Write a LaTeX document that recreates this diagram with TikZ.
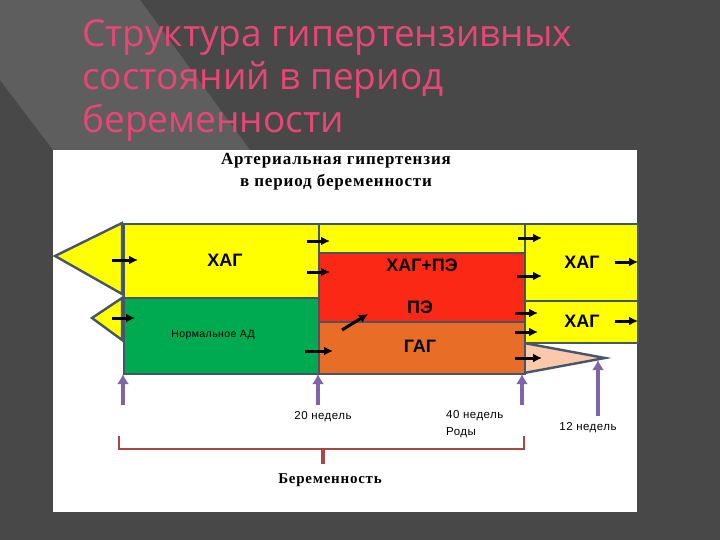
\documentclass[tikz,border=0pt]{standalone}
\usepackage{fontspec}
\setmainfont{Liberation Serif}
\newfontfamily\titlefont{Open Sans}
\newfontfamily\arialf{Liberation Sans}
\newfontfamily\arialsp[LetterSpace=4]{Liberation Sans}
\newfontfamily\serifsp[LetterSpace=5]{Liberation Serif}
\begin{document}
\begin{tikzpicture}[x=1pt,y=-1pt,
  cell/.style={draw={rgb,255:red,70;green,85;blue,105}, line width=2.4pt},
  blk/.style={-{Latex[length=9pt,width=9pt]}, line width=3pt, black},
  pur/.style={-{Latex[length=10pt,width=12pt]}, line width=4pt, color={rgb,255:red,128;green,100;blue,170}},
  lab/.style={font=\arialf\bfseries\fontsize{18}{18}\selectfont, inner sep=0pt},
  small/.style={font=\arialsp\fontsize{11.5}{17}\selectfont, inner sep=0pt, align=left}]
\usetikzlibrary{arrows.meta}
\definecolor{bg}{RGB}{72,72,72}
\definecolor{ttl}{RGB}{232,70,120}
\definecolor{yel}{RGB}{255,255,0}
\definecolor{grn}{RGB}{0,170,80}
\definecolor{redc}{RGB}{250,40,20}
\definecolor{orn}{RGB}{232,110,40}
\definecolor{pch}{RGB}{250,200,170}
\definecolor{brc}{RGB}{170,70,70}
\useasboundingbox (0,0) rectangle (720,540);
\fill[bg] (0,0) rectangle (720,540);
\fill[gray!40!bg] (0,0) -- (140,0) -- (250,150) -- (53,150) -- (0,80) -- cycle;
\node[anchor=west, text=ttl, font=\titlefont\fontsize{37}{43}\selectfont, align=left, inner sep=0pt] (title) at (82,81)
 {Структура гипертензивных\\состояний в период\\беременности};
\fill[white] (53,150) rectangle (637,512);
\node[font=\serifsp\bfseries\fontsize{17}{22}\selectfont, align=center, inner sep=0pt] (head) at (336,172) {Артериальная гипертензия\\в период беременности};
% left triangles
\filldraw[fill=yel, cell] (122,223) -- (55,256) -- (122,294) -- cycle;
\filldraw[fill=yel, cell] (122,298) -- (92,318) -- (122,340) -- cycle;
\filldraw[fill=pch, cell] (524,343) -- (605,358) -- (524,373) -- cycle;
% cells
\node[cell, fill=yel, minimum width=195, minimum height=74, inner sep=0, anchor=north west] (xag1) at (123,223) {};
\node[lab] at (225,260) {ХАГ};
\node[cell, fill=grn, minimum width=195, minimum height=76, inner sep=0, anchor=north west] (norm) at (123,297) {};
\node[small, font=\arialsp\fontsize{10.5}{12}\selectfont] at (213,335) {Нормальное АД};
\node[cell, fill=yel, minimum width=206, minimum height=29, inner sep=0, anchor=north west] (topy) at (318,223) {};
\node[cell, fill=redc, minimum width=206, minimum height=69, inner sep=0, anchor=north west] (red) at (318,252) {};
\node[lab] at (422,265) {ХАГ+ПЭ};
\node[lab] at (420,307) {ПЭ};
\node[cell, fill=orn, minimum width=206, minimum height=52, inner sep=0, anchor=north west] (gag) at (318,321) {};
\node[lab] at (420,346) {ГАГ};
\node[cell, fill=yel, minimum width=113, minimum height=77, inner sep=0, anchor=north west] (xag2) at (524,223) {};
\node[lab] at (582,262) {ХАГ};
\node[cell, fill=yel, minimum width=113, minimum height=42, inner sep=0, anchor=north west] (xag3) at (524,300) {};
\node[lab] at (582,321) {ХАГ};
% black arrows
\foreach \a/\b/\c/\d in {112/260/138/260, 112/318/135/318, 307/241/330/241, 307/272/330/272, 342/330/368/314, 305/351/333/351, 518/238/542/238, 517/276/542/276, 515/313/538/313, 515/332/538/332, 515/358/542/358, 615/262/638/262, 615/321/638/321}
  \draw[blk] (\a,\b) -- (\c,\d);
% purple arrows
\coordinate (p1) at (123,405); \coordinate (p2) at (318,405); \coordinate (p3) at (522,405); \coordinate (p4) at (598,416);
\draw[pur] (p1) -- (123,374);
\draw[pur] (p2) -- (318,374);
\draw[pur] (p3) -- (522,374);
\draw[pur] (p4) -- (598,360);
\node[small] (w20) at (323,417) {20 недель};
\node[small, anchor=north west] (w40) at (446,410) {40 недель\\Роды};
\node[small] (w12) at (588,428) {12 недель};
% brace
\coordinate (b1) at (119,436); \coordinate (b2) at (524,436);
\draw[brc, line width=2.5pt] (b1) -- (119,449) -- (524,449) -- (b2);
\draw[brc, line width=3.5pt] (323,449) -- (323,464);
\node[font=\serifsp\bfseries\fontsize{15}{17}\selectfont, inner sep=0pt] (preg) at (330,480) {Беременность};
\end{tikzpicture}
\end{document}
